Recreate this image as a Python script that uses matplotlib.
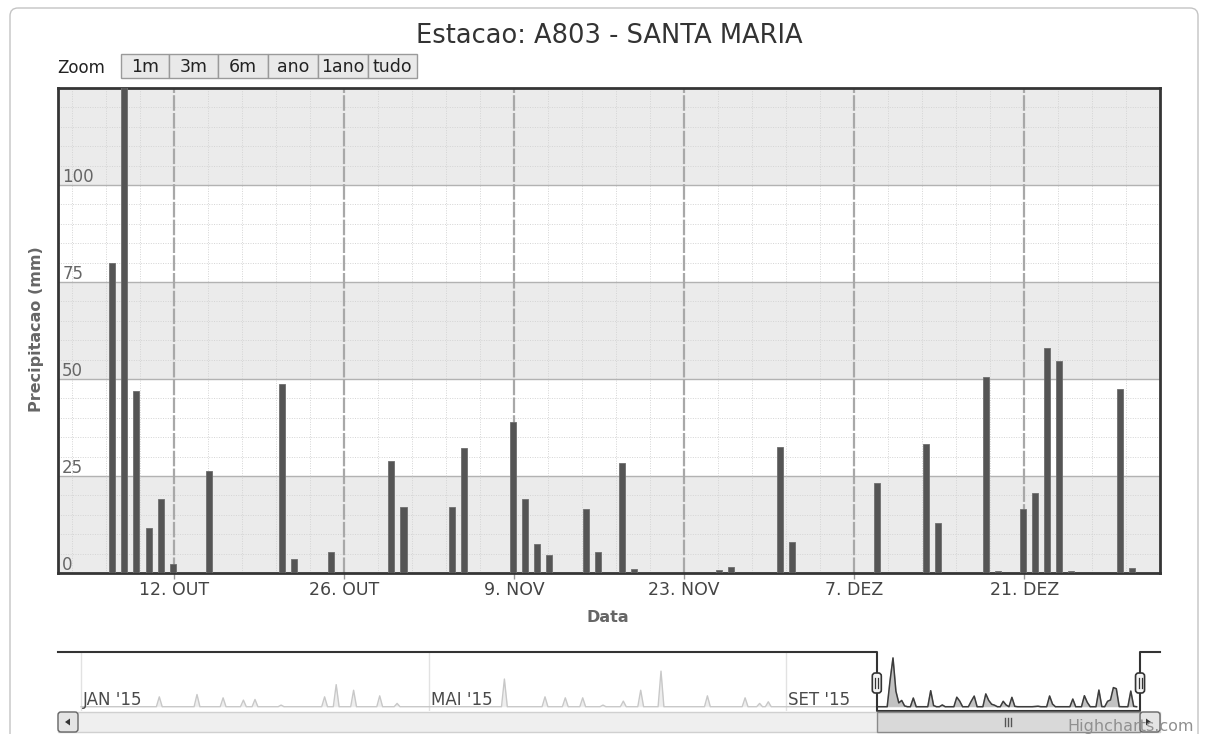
import numpy as np
import pandas as pd
import matplotlib
matplotlib.use("Agg")
import matplotlib.pyplot as plt
import matplotlib.dates as mdates
from matplotlib.patches import Rectangle, FancyBboxPatch, Polygon

# daily rain (mm), Santa Maria A803, oct-dec 2015
rain_dates = ["2015-10-07", "2015-10-08", "2015-10-09", "2015-10-10", "2015-10-11",
              "2015-10-12", "2015-10-15", "2015-10-21", "2015-10-22", "2015-10-25",
              "2015-10-30", "2015-10-31", "2015-11-04", "2015-11-05", "2015-11-09",
              "2015-11-10", "2015-11-11", "2015-11-12", "2015-11-15", "2015-11-16",
              "2015-11-18", "2015-11-19", "2015-11-26", "2015-11-27", "2015-12-01",
              "2015-12-02", "2015-12-09", "2015-12-13", "2015-12-14", "2015-12-18",
              "2015-12-19", "2015-12-21", "2015-12-22", "2015-12-23", "2015-12-24",
              "2015-12-25", "2015-12-29", "2015-12-30"]
rain_mm = [80, 148, 47, 11.5, 19,
           2.4, 26.3, 48.6, 3.5, 5.3,
           28.8, 17, 17, 32.2, 38.8,
           19.1, 7.6, 4.6, 16.4, 5.3,
           28.4, 1.1, 0.7, 1.5, 32.5,
           8.1, 23.2, 33.3, 13.0, 50.5,
           0.4, 16.4, 20.5, 58.0, 54.7,
           0.4, 47.4, 1.2]

# earlier 2015 rain, only seen in the navigator strip
nav_dates = ["2015-01-28", "2015-02-10", "2015-02-19", "2015-02-26", "2015-03-02",
             "2015-03-11", "2015-03-26", "2015-03-30", "2015-04-05", "2015-04-14",
             "2015-04-20", "2015-05-27", "2015-06-10", "2015-06-17", "2015-06-23",
             "2015-06-30", "2015-07-07", "2015-07-13", "2015-07-20", "2015-08-05",
             "2015-08-18", "2015-08-23", "2015-08-26"]
nav_mm = [30, 37, 27, 20, 22,
          5, 30, 67, 50, 33,
          10, 84, 30, 27, 27,
          5, 17, 50, 108, 33,
          27, 10, 15]

y_ticks = [0, 25, 50, 75, 100]
x_tick_dates = ["2015-10-12", "2015-10-26", "2015-11-09", "2015-11-23", "2015-12-07", "2015-12-21"]
x_tick_labels = ["12. OUT", "26. OUT", "9. NOV", "23. NOV", "7. DEZ", "21. DEZ"]
nav_month_dates = ["2015-01-01", "2015-05-01", "2015-09-01"]
nav_month_labels = ["JAN '15", "MAI '15", "SET '15"]
zoom_buttons = ["1m", "3m", "6m", "ano", "1ano", "tudo"]

W, H = 1206, 734


def fx(x):
    return x / W


def fy(y):
    return 1 - y / H


def dnum(s):
    return mdates.date2num(pd.to_datetime(s))


fig = plt.figure(figsize=(W / 100, H / 100), dpi=100)
fig.patch.set_facecolor("white")

# ---- main plot ----
ax = fig.add_axes([fx(58), fy(573), (1160 - 58) / W, (573 - 88) / H])
x0, x1 = dnum("2015-10-02 10:00"), dnum("2016-01-01 04:30")
ax.set_xlim(x0, x1)
ax.set_ylim(0, 125)

for lo in [0, 50, 100]:
    ax.axhspan(lo, lo + 25, color="#ebebeb", zorder=0, lw=0)
for v in range(5, 125, 5):
    if v % 25:
        ax.axhline(v, color="#d4d4d4", lw=0.7, ls=(0, (1, 1.5)), zorder=1)
for v in y_ticks[1:]:
    ax.axhline(v, color="#b2b2b2", lw=1, zorder=1)

xt = dnum(x_tick_dates)
step = 14 / 5.0
for k, t in enumerate(np.arange(xt[0] - 4 * step, x1, step)):
    if (k - 4) % 5:
        ax.axvline(t, color="#d4d4d4", lw=0.7, ls=(0, (1, 1.5)), zorder=1)
for t in xt:
    ax.axvline(t, color="#a8a8a8", lw=1.6, ls=(0, (7, 1)), zorder=1)

# bars sit 3h before midnight (local time offset in the source)
ax.bar(dnum(rain_dates) - 0.125, rain_mm, width=0.5, color="#555555",
       edgecolor="#6e6e6e", lw=0.6, zorder=3)

ax.set_yticks([])
for v in y_ticks:
    ax.annotate(str(v), xy=(0, v), xycoords=("axes fraction", "data"), xytext=(3, 2),
                textcoords="offset points", va="baseline", ha="left",
                fontsize=12, color="#666666", zorder=4)

ax.set_xticks(xt)
ax.set_xticklabels(x_tick_labels)
ax.tick_params(axis="x", length=4, width=1, color="#999999", pad=2,
               labelsize=12.5, labelcolor="#444444")
for s in ax.spines.values():
    s.set_color("#353535")
    s.set_linewidth(2)

fig.text(fx(609), fy(36), "Estacao: A803 - SANTA MARIA", ha="center", va="center",
         fontsize=18.5, color="#333333")
fig.text(fx(608), fy(618), "Data", ha="center", va="center", fontsize=11.5,
         fontweight="bold", color="#666666")
fig.text(fx(37), fy(329), "Precipitacao (mm)", ha="center", va="center", rotation=90,
         fontsize=11.5, fontweight="bold", color="#666666")

# ---- navigator ----
nav = fig.add_axes([fx(58), fy(711), (1160 - 58) / W, (711 - 652) / H])
jan1 = dnum("2015-01-01")
nav.set_xlim(jan1 - 23 / 2.9, jan1 + 1079 / 2.9)
nav.set_ylim(-13, 166)
nav.axis("off")

days = pd.date_range("2015-01-01", "2015-12-31", freq="D")
daily = pd.Series(0.0, index=days)
daily[pd.to_datetime(nav_dates)] = nav_mm
daily[pd.to_datetime(rain_dates)] = rain_mm
dn = mdates.date2num(daily.index)
dv = daily.values

for d in dnum(nav_month_dates):
    nav.axvline(d, color="#e2e2e2", lw=1, zorder=0)
nav.fill_between(dn, dv, color="#eeeeee", lw=0, zorder=1)
nav.plot(dn, dv, color="#c8c8c8", lw=1, zorder=2)
sel = (dn >= x0) & (dn <= x1)
nav.fill_between(dn[sel], dv[sel], color="#c2c2c2", lw=0, zorder=3)
nav.plot(dn[sel], dv[sel], color="#3c3c3c", lw=1.1, zorder=4)
for d, lab in zip(dnum(nav_month_dates), nav_month_labels):
    nav.text(d + 0.7, 20, lab, ha="left", va="center", fontsize=12, color="#4a4a4a", zorder=5)

top, bot = 166, -13
nx0, nx1 = nav.get_xlim()
nav.plot([nx0, x0, x0, x1, x1, nx1], [top, top, bot, bot, top, top],
         color="#333333", lw=1.5, clip_on=False, zorder=6)

# ---- overlay in pixel coords for the ui bits ----
ov = fig.add_axes([0, 0, 1, 1])
ov.set_xlim(0, W)
ov.set_ylim(H, 0)
ov.axis("off")
ov.patch.set_visible(False)

ov.add_patch(FancyBboxPatch((10, 8), 1188, 760, boxstyle="round,pad=0,rounding_size=8",
                            fc="none", ec="#c4c4c4", lw=1))

ov.text(57, 68, "Zoom", ha="left", va="center", fontsize=12, color="#222222")
edges = [121, 169, 218, 268, 318, 368, 417]
for i, lab in enumerate(zoom_buttons):
    ov.add_patch(Rectangle((edges[i], 54), edges[i + 1] - edges[i], 24, fc="#e9e9e9",
                           ec="#9a9a9a", lw=1))
    ov.text((edges[i] + edges[i + 1]) / 2, 66.5, lab, ha="center", va="center",
            fontsize=12.5, color="#222222")

# selection edges in pixels
sx0 = nav.transData.transform((x0, 0))[0]
sx1 = nav.transData.transform((x1, 0))[0]

# scrollbar
ov.add_patch(Rectangle((58, 712), 1102, 20, fc="#efefef", ec="#d0d0d0", lw=1))
ov.add_patch(Rectangle((sx0, 712), sx1 - sx0, 20, fc="#d9d9d9", ec="#8a8a8a", lw=1))
mid = (sx0 + sx1) / 2
for dx in [-3, 0, 3]:
    ov.plot([mid + dx, mid + dx], [718, 726], color="#555555", lw=1)
ov.add_patch(FancyBboxPatch((58, 712), 20, 20, boxstyle="round,pad=0,rounding_size=3",
                            fc="#e4e4e4", ec="#666666", lw=1))
ov.add_patch(Polygon([[65, 722], [70, 718.5], [70, 725.5]], closed=True, fc="#333333", ec="none"))
ov.add_patch(FancyBboxPatch((sx1, 712), 1160 - sx1, 20, boxstyle="round,pad=0,rounding_size=3",
                            fc="#e4e4e4", ec="#666666", lw=1))
ov.add_patch(Polygon([[1146, 718.5], [1151, 722], [1146, 725.5]], closed=True, fc="#333333", ec="none"))

# navigator handles
for hx in [sx0, sx1]:
    ov.add_patch(FancyBboxPatch((hx - 4.5, 673), 9, 20, boxstyle="round,pad=0,rounding_size=3",
                                fc="#f4f4f4", ec="#333333", lw=1.2, zorder=5))
    for dx in [-1.5, 1.5]:
        ov.plot([hx + dx, hx + dx], [678, 688], color="#333333", lw=0.9, zorder=6)

ov.text(1067, 727, "Highcharts.com", ha="left", va="center", fontsize=11.5, color="#909090")

fig.savefig("out.png", dpi=100)
